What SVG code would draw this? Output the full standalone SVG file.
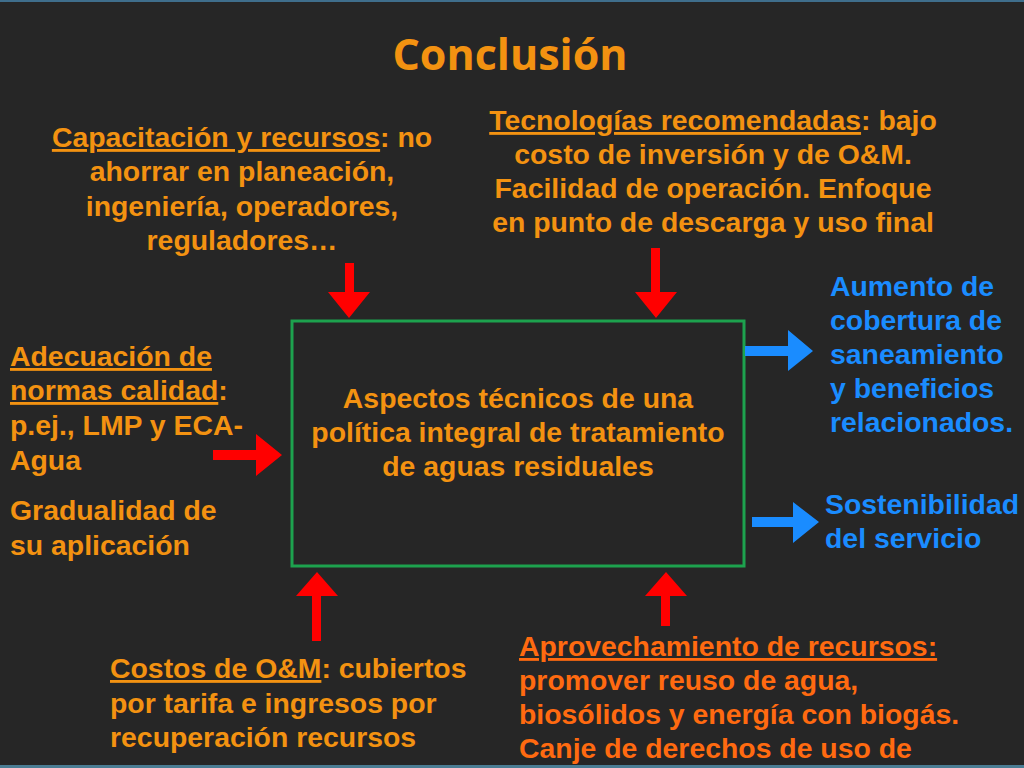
<svg xmlns="http://www.w3.org/2000/svg" width="1024" height="768" viewBox="0 0 1024 768">
<style>
.t{font-family:"Liberation Sans",Arial,Helvetica,sans-serif;font-weight:bold;font-size:28.4px;}
.or{fill:#F39211;}
.or2{fill:#FF6A10;}
.bl{fill:#1A8CFF;}
.u{text-decoration:underline;}
.red{fill:#FF0000;}
.blue{fill:#1A8CFF;}
</style>
<rect x="0" y="0" width="1024" height="768" fill="#262626"/>
<rect x="0" y="0" width="1024" height="2" fill="#3F6E8C"/>
<rect x="0" y="765" width="1024" height="3" fill="#4A7C93"/>
<text x="510" y="70" text-anchor="middle" style="font-family:'Open Sans','Liberation Sans',sans-serif;font-weight:700;font-size:43px;" class="or">Conclusión</text>

<g id="box">
<rect x="292" y="321" width="452" height="245" fill="none" stroke="#1DA24E" stroke-width="3"/>
<text class="t or" text-anchor="middle"><tspan x="518" y="408">Aspectos técnicos de una</tspan><tspan x="518" y="442">política integral de tratamiento</tspan><tspan x="518" y="476">de aguas residuales</tspan></text>
</g>

<g id="capacitacion">
<text class="t or" text-anchor="middle"><tspan x="242" y="147"><tspan class="u">Capacitación y recursos</tspan>: no</tspan><tspan x="242" y="181">ahorrar en planeación,</tspan><tspan x="242" y="216">ingeniería, operadores,</tspan><tspan x="242" y="250">reguladores…</tspan></text>
</g>

<g id="tecnologias">
<text class="t or" text-anchor="middle"><tspan x="713" y="130"><tspan class="u">Tecnologías recomendadas</tspan>: bajo</tspan><tspan x="713" y="164">costo de inversión y de O&amp;M.</tspan><tspan x="713" y="198">Facilidad de operación. Enfoque</tspan><tspan x="713" y="232">en punto de descarga y uso final</tspan></text>
</g>

<g id="normas">
<text class="t or"><tspan x="10" y="366" class="u">Adecuación de</tspan><tspan x="10" y="400"><tspan class="u">normas calidad</tspan>:</tspan><tspan x="10" y="435">p.ej., LMP y ECA-</tspan><tspan x="10" y="470">Agua</tspan><tspan x="10" y="520">Gradualidad de</tspan><tspan x="10" y="555">su aplicación</tspan></text>
</g>

<g id="aumento">
<text class="t bl"><tspan x="830" y="296">Aumento de</tspan><tspan x="830" y="330">cobertura de</tspan><tspan x="830" y="364">saneamiento</tspan><tspan x="830" y="398">y beneficios</tspan><tspan x="830" y="432">relacionados.</tspan></text>
</g>

<g id="sostenibilidad">
<text class="t bl"><tspan x="825" y="514">Sostenibilidad</tspan><tspan x="825" y="548">del servicio</tspan></text>
</g>

<g id="costos">
<text class="t or"><tspan x="110" y="678"><tspan class="u">Costos de O&amp;M</tspan>: cubiertos</tspan><tspan x="110" y="713">por tarifa e ingresos por</tspan><tspan x="110" y="747">recuperación recursos</tspan></text>
</g>

<g id="aprovechamiento">
<text class="t or2"><tspan x="519" y="656" class="u">Aprovechamiento de recursos:</tspan><tspan x="519" y="690">promover reuso de agua,</tspan><tspan x="519" y="724">biosólidos y energía con biogás.</tspan><tspan x="519" y="758">Canje de derechos de uso de</tspan></text>
</g>

<g id="connectors">
<polygon class="red" points="345,263 354,263 354,292 370,292 349,318 328,292 345,292"/>
<polygon class="red" points="651,248 660,248 660,292 677,292 656,318 635,292 651,292"/>
<polygon class="red" points="213,450 256,450 256,434 282,455 256,476 256,460 213,460"/>
<polygon class="red" points="317,572 338,596 321,596 321,641 312,641 312,596 296,596"/>
<polygon class="red" points="666,572 687,596 670,596 670,626 661,626 661,596 645,596"/>
<polygon class="blue" points="745,346 788,346 788,330 813,351 788,371 788,356 745,356"/>
<polygon class="blue" points="752,517 793,517 793,502 819,522 793,543 793,527 752,527"/>
</g>
</svg>
